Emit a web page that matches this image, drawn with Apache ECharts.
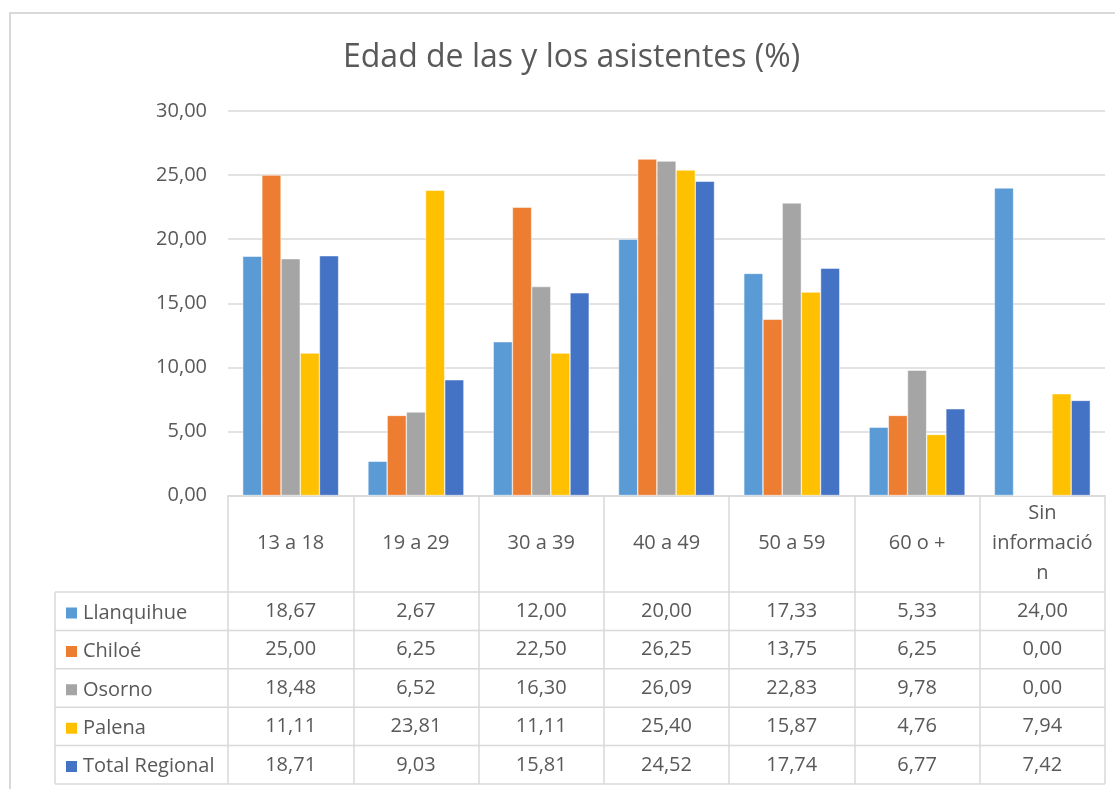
<!DOCTYPE html>
<html>
<head>
<meta charset="utf-8">
<script src="https://cdn.jsdelivr.net/npm/echarts@6/dist/echarts.min.js"></script>
<style>
  html, body { margin: 0; padding: 0; background: #fff; }
  #chart { width: 1115px; height: 789px; }
</style>
</head>
<body>
<div id="chart"></div>
<script>
// datos del gráfico
const categories = ['13 a 18', '19 a 29', '30 a 39', '40 a 49', '50 a 59', '60 o +', 'Sin información']
const seriesNames = ['Llanquihue', 'Chiloé', 'Osorno', 'Palena', 'Total Regional']
const llanquihue = [18.67, 2.67, 12.00, 20.00, 17.33, 5.33, 24.00]
const chiloe = [25.00, 6.25, 22.50, 26.25, 13.75, 6.25, 0.00]
const osorno = [18.48, 6.52, 16.30, 26.09, 22.83, 9.78, 0.00]
const palena = [11.11, 23.81, 11.11, 25.40, 15.87, 4.76, 7.94]
const totalRegional = [18.71, 9.03, 15.81, 24.52, 17.74, 6.77, 7.42]
const yTicks = [0, 5, 10, 15, 20, 25, 30]

const seriesData = [llanquihue, chiloe, osorno, palena, totalRegional]
const colors = ['#5B9BD5', '#ED7D31', '#A5A5A5', '#FFC000', '#4472C4']

const FONT = '"Open Sans", sans-serif'
const TEXT = '#595959'
const LINE = '#d9d9d9'

// tabla de datos bajo el eje
const gridLeft = 228
const gridRight = 1105
const axisY = 495.5
const headerBottom = 592
const rowH = 38.4
const tableLeft = 55

const fmt = v => v.toFixed(2).replace('.', ',')

const chart = echarts.init(document.getElementById('chart'))

// ejes extra: uno por fila de la tabla, las etiquetas son los valores
const rowAxes = seriesData.map((arr, i) => ({
  type: 'category',
  data: categories,
  position: 'bottom',
  axisLine: { show: false, onZero: false },
  axisTick: { show: false },
  axisLabel: {
    interval: 0,
    margin: headerBottom + rowH * (i + 0.5) - axisY,
    verticalAlign: 'middle',
    color: TEXT,
    fontFamily: FONT,
    fontSize: 20,
    formatter: (val, idx) => fmt(arr[idx])
  }
}))

const lines = []
for (let i = 0; i <= seriesData.length; i++) {
  const y = headerBottom + rowH * i
  lines.push({
    type: 'line',
    shape: { x1: tableLeft, y1: y, x2: gridRight, y2: y },
    style: { stroke: LINE, lineWidth: 1.5 }
  })
}
lines.push({
  type: 'line',
  shape: { x1: tableLeft, y1: headerBottom, x2: tableLeft, y2: headerBottom + rowH * seriesData.length },
  style: { stroke: LINE, lineWidth: 1.5 }
})
// marco exterior
lines.push({
  type: 'rect',
  shape: { x: 10, y: 13, width: 1120, height: 800 },
  style: { fill: 'none', stroke: LINE, lineWidth: 2 },
  z: -1
})

const option = {
  animation: false,
  color: colors,
  title: {
    text: 'Edad de las y los asistentes (%)',
    left: 338,
    top: 37,
    textStyle: { color: TEXT, fontFamily: FONT, fontSize: 32, fontWeight: 'normal' }
  },
  legend: {
    orient: 'vertical',
    left: 59,
    top: headerBottom + 6,
    icon: 'rect',
    itemWidth: 13,
    itemHeight: 13,
    itemGap: rowH - 20,
    textStyle: { color: TEXT, fontFamily: FONT, fontSize: 20, lineHeight: 20 },
    data: seriesNames
  },
  grid: {
    left: gridLeft,
    right: 1115 - gridRight,
    top: 111,
    bottom: 789 - axisY
  },
  xAxis: [
    {
      type: 'category',
      data: categories,
      axisLine: { lineStyle: { color: LINE, width: 1.5 } },
      axisTick: {
        show: true,
        interval: 0,
        length: headerBottom + rowH * seriesData.length - axisY,
        lineStyle: { color: LINE, width: 1.5 }
      },
      axisLabel: {
        interval: 0,
        margin: (headerBottom - axisY) / 2,
        verticalAlign: 'middle',
        color: TEXT,
        fontFamily: FONT,
        fontSize: 20,
        lineHeight: 30,
        align: 'center',
        formatter: v => v === 'Sin información' ? 'Sin\ninformació\nn' : v
      }
    },
    ...rowAxes
  ],
  yAxis: {
    type: 'value',
    min: yTicks[0],
    max: yTicks[yTicks.length - 1],
    interval: 5,
    axisLine: { show: false },
    axisTick: { show: false },
    splitLine: { lineStyle: { color: LINE, width: 1.5 } },
    axisLabel: {
      margin: 21,
      color: TEXT,
      fontFamily: FONT,
      fontSize: 20,
      formatter: v => fmt(v)
    }
  },
  series: seriesNames.map((name, i) => ({
    name: name,
    type: 'bar',
    xAxisIndex: 0,
    data: seriesData[i],
    barGap: 0,
    barCategoryGap: '23.4%',
    itemStyle: { borderColor: '#fff', borderWidth: 0.5 }
  })),
  graphic: lines
}

chart.setOption(option)
</script>
</body>
</html>
